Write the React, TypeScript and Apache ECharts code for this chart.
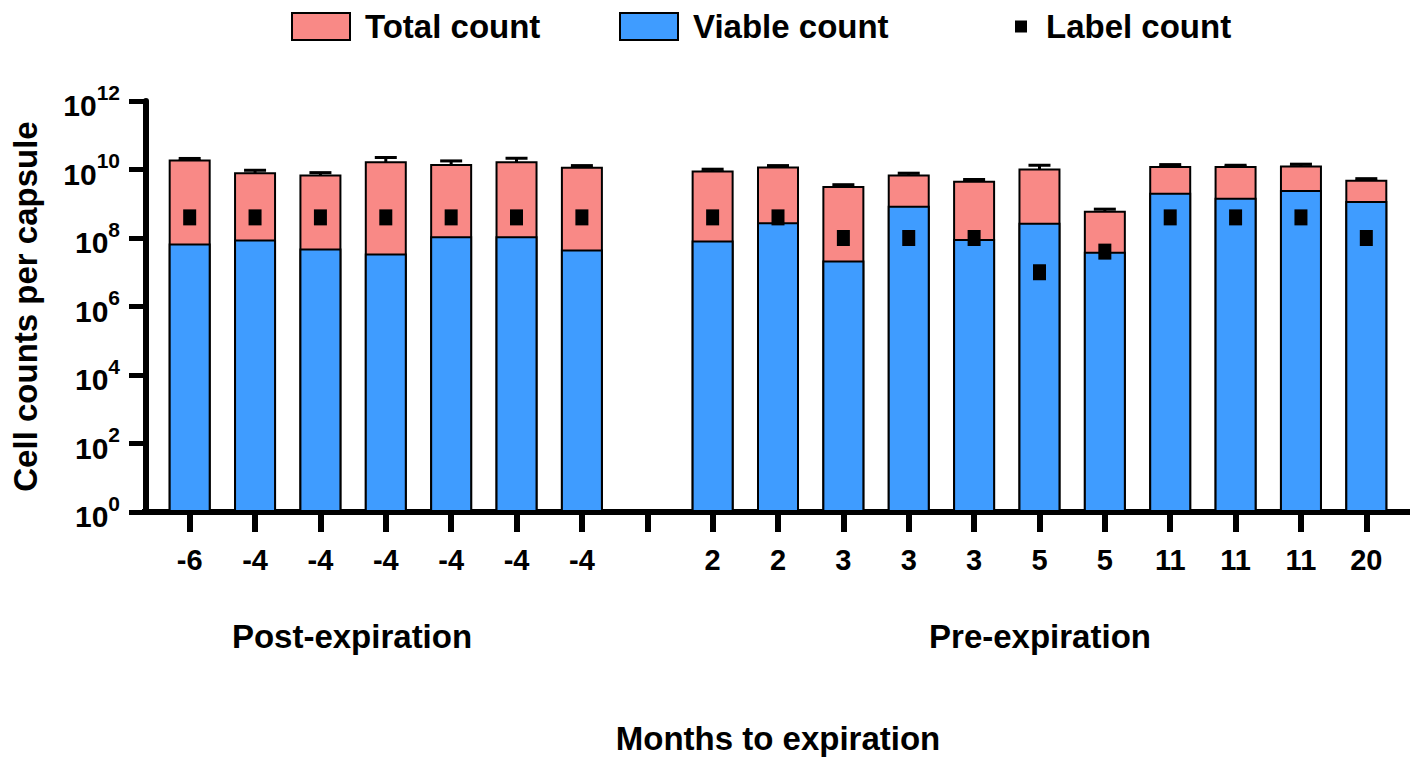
import React, { useEffect, useRef } from "react";
import * as echarts from "echarts";

const categories = ["-6", "-4", "-4", "-4", "-4", "-4", "-4", "", "2", "2", "3", "3", "3", "5", "5", "11", "11", "11", "20"];

const totalCount = [1.95e10, 8.3e9, 7.1e9, 1.74e10, 1.45e10, 1.74e10, 1.2e10, null, 9.3e9, 1.22e10, 3.3e9, 7.1e9, 4.7e9, 1.07e10, 6.2e8, 1.27e10, 1.27e10, 1.3e10, 5e9];
const totalLow = [1.8e10, 7.3e9, 6.3e9, 1.36e10, 1.24e10, 1.49e10, 1.1e10, null, 8.6e9, 1.15e10, 3.0e9, 6.5e9, 4.3e9, 8.9e9, 5.6e8, 1.17e10, 1.2e10, 1.2e10, 4.6e9];
const totalHigh = [2.1e10, 9.5e9, 8.1e9, 2.24e10, 1.78e10, 2.13e10, 1.3e10, null, 1.02e10, 1.3e10, 3.6e9, 7.8e9, 5.1e9, 1.33e10, 6.95e8, 1.39e10, 1.33e10, 1.43e10, 5.4e9];

const viableCount = [6.9e7, 9.1e7, 4.9e7, 3.5e7, 1.12e8, 1.12e8, 4.6e7, null, 8.5e7, 2.9e8, 2.2e7, 8.7e8, 9.3e7, 2.8e8, 4e7, 2.1e9, 1.5e9, 2.5e9, 1.2e9];
const viableLow = [6.6e7, 7.9e7, 4.6e7, 3.1e7, 1.04e8, 1.04e8, 4.4e7, null, 7.9e7, 2.3e8, 2.1e7, 8.1e8, 8.5e7, 2.6e8, 3.7e7, 1.9e9, 1.4e9, 2.27e9, 1.16e9];
const viableHigh = [8.3e7, 1.18e8, 5.2e7, 4.2e7, 1.35e8, 1.35e8, 4.9e7, null, 1.04e8, 4.1e8, 2.37e7, 1.06e9, 1.13e8, 3.2e8, 4.95e7, 2.5e9, 1.62e9, 3.04e9, 1.49e9];

const labelCount = [4e8, 4e8, 4e8, 4e8, 4e8, 4e8, 4e8, null, 4e8, 4e8, 1e8, 1e8, 1e8, 1e7, 4e7, 4e8, 4e8, 4e8, 1e8];

const FONT = "'Liberation Sans', Arial, Helvetica, sans-serif";
const PINK = "#F98986";
const BLUE = "#3F9CFF";

function errData(lo: (number | null)[], hi: (number | null)[]) {
  const out: number[][] = [];
  lo.forEach((l, i) => {
    const h = hi[i];
    if (l != null && h != null) out.push([i, l, h]);
  });
  return out;
}

function errorRender(params: any, api: any) {
  const x = api.value(0);
  const lo = api.coord([x, api.value(1)]);
  const hi = api.coord([x, api.value(2)]);
  const half = 11;
  const style = { stroke: "#000", lineWidth: 3 };
  return {
    type: "group",
    children: [
      { type: "line", shape: { x1: hi[0], y1: hi[1], x2: lo[0], y2: lo[1] }, style },
      { type: "line", shape: { x1: hi[0] - half, y1: hi[1], x2: hi[0] + half, y2: hi[1] }, style },
      { type: "line", shape: { x1: lo[0] - half, y1: lo[1], x2: lo[0] + half, y2: lo[1] }, style },
    ],
  };
}

export default function App() {
  const ref = useRef<HTMLDivElement>(null);
  useEffect(() => {
    if (!ref.current) return;
    const chart = echarts.init(ref.current, null, { renderer: "svg" });
    const legendText = { fontSize: 33, fontWeight: "bold", color: "#000", fontFamily: FONT, padding: [0, 0, 0, 10] };
    chart.setOption({
      animation: false,
      backgroundColor: "#fff",
      textStyle: { fontFamily: FONT },
      legend: [
        { data: ["Total count"], left: 286, top: 5, icon: "rect", itemWidth: 58, itemHeight: 27, textStyle: legendText, selectedMode: false },
        { data: ["Viable count"], left: 614, top: 5, icon: "rect", itemWidth: 58, itemHeight: 27, textStyle: legendText, selectedMode: false },
        { data: ["Label count"], left: 1010, top: 5, icon: "rect", itemWidth: 12, itemHeight: 12, textStyle: { ...legendText, padding: [0, 0, 0, 14] }, selectedMode: false },
      ],
      grid: { left: 157, right: 18, top: 101, bottom: 252, containLabel: false },
      xAxis: {
        type: "category",
        data: categories,
        boundaryGap: true,
        name: "Months to expiration",
        nameLocation: "middle",
        nameGap: 210,
        nameTextStyle: { fontSize: 33, fontWeight: "bold", color: "#000", fontFamily: FONT },
        axisLine: { show: true, lineStyle: { color: "#000", width: 6 } },
        axisTick: { show: true, alignWithLabel: true, length: 20, lineStyle: { color: "#000", width: 6 } },
        axisLabel: { show: true, interval: 0, margin: 33, fontSize: 29, fontWeight: "bold", color: "#000", fontFamily: FONT },
        splitLine: { show: false },
      },
      yAxis: {
        type: "log",
        logBase: 10,
        min: 1,
        max: 1e12,
        interval: 2,
        offset: 11,
        name: "Cell counts per capsule",
        nameLocation: "middle",
        nameRotate: 90,
        nameGap: 104,
        nameTextStyle: { fontSize: 33, fontWeight: "bold", color: "#000", fontFamily: FONT },
        axisLine: { show: true, lineStyle: { color: "#000", width: 6 } },
        axisTick: { show: true, length: 17, lineStyle: { color: "#000", width: 5 } },
        splitLine: { show: false },
        minorTick: { show: false },
        axisLabel: {
          margin: 26,
          formatter: (v: number) => `{b|10}{s|${Math.round(Math.log10(v))}}`,
          rich: {
            b: { fontSize: 30, fontWeight: "bold", color: "#000", fontFamily: FONT, lineHeight: 39, verticalAlign: "bottom" },
            s: { fontSize: 21, fontWeight: "bold", color: "#000", fontFamily: FONT, verticalAlign: "top", lineHeight: 21 },
          },
        },
      },
      graphic: [
        { type: "rect", shape: { x: 142, y: 509, width: 20, height: 6 }, style: { fill: "#000" }, z: 10 },
        { type: "rect", shape: { x: 1396, y: 509, width: 14, height: 6 }, style: { fill: "#000" }, z: 10 },
        { type: "text", x: 352, y: 636, style: { text: "Post-expiration", fontSize: 33, fontWeight: "bold", fill: "#000", fontFamily: FONT, textAlign: "center", textVerticalAlign: "middle" } },
        { type: "text", x: 1040, y: 636, style: { text: "Pre-expiration", fontSize: 33, fontWeight: "bold", fill: "#000", fontFamily: FONT, textAlign: "center", textVerticalAlign: "middle" } },
      ],
      series: [
        {
          name: "Total count",
          type: "bar",
          barWidth: 42,
          barGap: "-100%",
          data: totalCount.map((v) => (v == null ? "-" : v)),
          itemStyle: { color: PINK, borderColor: "#000", borderWidth: 2 },
        },
        {
          type: "custom",
          name: "totalErr",
          renderItem: errorRender,
          data: errData(totalLow, totalHigh),
          encode: { x: 0, y: [1, 2] },
          silent: true,
        },
        {
          name: "Viable count",
          type: "bar",
          barWidth: 42,
          barGap: "-100%",
          data: viableCount.map((v) => (v == null ? "-" : v)),
          itemStyle: { color: BLUE, borderColor: "#000", borderWidth: 2 },
        },
        {
          type: "custom",
          name: "viableErr",
          renderItem: errorRender,
          data: errData(viableLow, viableHigh),
          encode: { x: 0, y: [1, 2] },
          silent: true,
        },
        {
          name: "Label count",
          type: "scatter",
          symbol: "rect",
          symbolSize: [13, 16],
          itemStyle: { color: "#000", opacity: 1 },
          data: labelCount.map((v) => (v == null ? "-" : v)),
          z: 5,
        },
      ],
    });
    return () => chart.dispose();
  }, []);
  return <div ref={ref} style={{ position: "absolute", left: 0, top: 0, width: 1417, height: 764 }} />;
}
